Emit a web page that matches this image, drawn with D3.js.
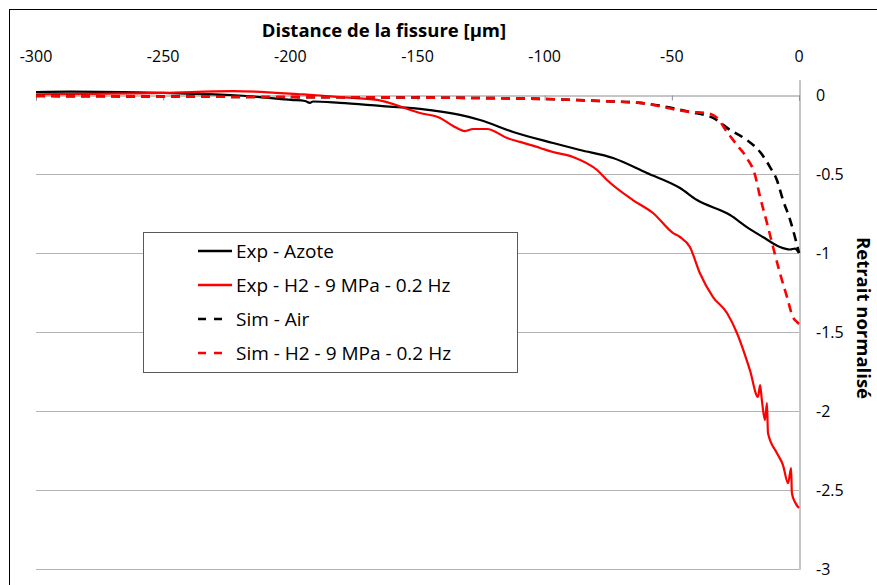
<!DOCTYPE html>
<html>
<head>
<meta charset="utf-8">
<script src="https://cdn.jsdelivr.net/npm/d3@7"></script>
<style>
  body { margin: 0; background: #fff; }
  svg { display: block; font-family: "Open Sans", "Noto Sans", sans-serif; }
</style>
</head>
<body>
<div id="chart"></div>
<script>
// distance to crack [µm] and normalised shrinkage
var expAzoteX = [-300, -286.6, -250, -223.7, -211.9, -199.7, -194.2, -192.3, -191.1, -180.5, -164.7, -149, -133.3, -125.4, -112.4, -96.7, -86.1, -73.1, -59.8, -46.8, -40.1, -27.1, -20.5, -14.2, -7.5, -3.5, -1.6, 0];
var expAzoteY = [0.022, 0.025, 0.016, 0.003, -0.01, -0.028, -0.035, -0.047, -0.038, -0.047, -0.066, -0.085, -0.123, -0.155, -0.231, -0.301, -0.345, -0.396, -0.491, -0.586, -0.662, -0.757, -0.833, -0.896, -0.959, -0.975, -0.969, -0.997];

var expH2X = [-300, -250.1, -222.5, -196.2, -191.1, -180.5, -165.9, -149, -141.1, -136, -131.3, -128.2, -122.7, -114.8, -109.7, -101.8, -96.7, -88.9, -79.4, -75.5, -65.3, -57.4, -49.5, -46.8, -42.9, -39, -33.8, -28.3, -24.4, -19.3, -16.1, -15.3, -14.6, -13.4, -12.6, -12.2, -8.7, -6.3, -4.3, -3.1, -2.8, -1.6, 0];
var expH2Y = [0.008, 0.016, 0.028, 0.008, 0.003, -0.01, -0.028, -0.111, -0.142, -0.193, -0.225, -0.212, -0.212, -0.269, -0.294, -0.332, -0.358, -0.389, -0.472, -0.535, -0.662, -0.744, -0.871, -0.896, -0.959, -1.124, -1.276, -1.377, -1.504, -1.739, -1.909, -1.833, -1.929, -2.055, -1.947, -2.137, -2.264, -2.34, -2.454, -2.359, -2.517, -2.574, -2.612];

var simAirX = [-300, -199.7, -149.8, -125.4, -99.9, -78.2, -62.5, -42.9, -33.8, -27.1, -20.5, -15.3, -11.4, -8.7, -6.3, -3.5, -1.6, 0];
var simAirY = [-0.003, -0.01, -0.013, -0.016, -0.022, -0.035, -0.047, -0.104, -0.142, -0.218, -0.282, -0.358, -0.453, -0.535, -0.662, -0.788, -0.896, -0.997];

var simH2X = [-300, -199.7, -149.8, -125.4, -99.9, -78.2, -62.5, -42.9, -36.2, -32.2, -28.3, -24.4, -20.5, -17.3, -15.3, -12.6, -10.2, -7.5, -4.7, -2.4, -0.8, 0];
var simH2Y = [-0.003, -0.01, -0.013, -0.016, -0.022, -0.035, -0.047, -0.104, -0.111, -0.142, -0.231, -0.313, -0.396, -0.503, -0.643, -0.807, -0.959, -1.124, -1.276, -1.403, -1.434, -1.447];

var xTicks = [-300, -250, -200, -150, -100, -50, 0];
var yTicks = [0, -0.5, -1, -1.5, -2, -2.5, -3];
var seriesNames = ["Exp - Azote", "Exp - H2 - 9 MPa - 0.2 Hz", "Sim - Air", "Sim - H2 - 9 MPa - 0.2 Hz"];

var w = 877, h = 585;

var svg = d3.select("#chart")
  .append("svg")
  .attr("width", w)
  .attr("height", h)

// outer frame, right and bottom edges fall outside the view
svg.append("rect")
  .attr("x", 9.5).attr("y", 9.5)
  .attr("width", 900).attr("height", 620)
  .attr("fill", "#fff")
  .attr("stroke", "#000")

var x = d3.scaleLinear().domain([-300, 0]).range([36, 799]);
var y = d3.scaleLinear().domain([0.1, -3]).range([79.7, 569.3]);

// horizontal gridlines
svg.append("g")
  .selectAll("line")
  .data(yTicks.filter(function(d) { return d != 0; }))
  .join("line")
  .attr("x1", x(-300)).attr("x2", x(0))
  .attr("y1", function(d) { return Math.round(y(d)) + 0.5; })
  .attr("y2", function(d) { return Math.round(y(d)) + 0.5; })
  .attr("stroke", "#b3b3b3")
  .attr("stroke-width", 1.2)

// x axis sits on y = 0, ticks pointing down
var xAxis = svg.append("g")
  .attr("transform", "translate(0," + (Math.round(y(0)) + 0.5) + ")")
  .call(d3.axisBottom(x).tickValues(xTicks).tickSize(5).tickFormat(""))
xAxis.select(".domain").attr("stroke", "#8c8c8c")
xAxis.selectAll(".tick line").attr("stroke", "#8c8c8c")

svg.append("g")
  .selectAll("text")
  .data(xTicks)
  .join("text")
  .attr("x", function(d) { return x(d); })
  .attr("y", 62)
  .attr("text-anchor", "middle")
  .attr("font-size", 16)
  .text(function(d) { return d; })

// y axis on the right at x = 0
var yAxis = svg.append("g")
  .attr("transform", "translate(" + (Math.round(x(0)) + 0.5) + ",0)")
  .call(d3.axisRight(y).tickValues([]).tickSize(0))
yAxis.select(".domain").attr("stroke", "#8c8c8c")

svg.append("g")
  .selectAll("text")
  .data(yTicks)
  .join("text")
  .attr("x", 816)
  .attr("y", function(d) { return y(d) + 5.5; })
  .attr("font-size", 16)
  .text(function(d) { return d; })

svg.append("text")
  .attr("x", 384).attr("y", 37)
  .attr("text-anchor", "middle")
  .attr("font-size", 18.5)
  .attr("font-weight", "bold")
  .text("Distance de la fissure [µm]")

svg.append("text")
  .attr("transform", "translate(857,318) rotate(90)")
  .attr("text-anchor", "middle")
  .attr("font-size", 18.5)
  .attr("font-weight", "bold")
  .text("Retrait normalisé")

function pts(xs, ys) {
  return xs.map(function(v, i) { return [v, ys[i]]; });
}

var line = d3.line()
  .x(function(d) { return x(d[0]); })
  .y(function(d) { return y(d[1]); })
  .curve(d3.curveMonotoneX)

var series = [
  {data: pts(expAzoteX, expAzoteY), color: "#000", dash: null},
  {data: pts(expH2X, expH2Y), color: "#ff0000", dash: null},
  {data: pts(simAirX, simAirY), color: "#000", dash: "9,6"},
  {data: pts(simH2X, simH2Y), color: "#ff0000", dash: "9,6"}
];

svg.append("g")
  .selectAll("path")
  .data(series)
  .join("path")
  .attr("d", function(d) { return line(d.data); })
  .attr("fill", "none")
  .attr("stroke", function(d) { return d.color; })
  .attr("stroke-width", function(d) { return d.dash ? 2.6 : 2.2; })
  .attr("stroke-dasharray", function(d) { return d.dash; })
  .attr("stroke-linejoin", "round")

// legend
var legend = svg.append("g")
legend.append("rect")
  .attr("x", 143.5).attr("y", 232.5)
  .attr("width", 374).attr("height", 140)
  .attr("fill", "#fff")
  .attr("stroke", "#595959")

var rowY = [251, 285, 319, 353];
series.forEach(function(s, i) {
  legend.append("line")
    .attr("x1", 198).attr("x2", s.dash ? 224 : 232)
    .attr("y1", rowY[i]).attr("y2", rowY[i])
    .attr("stroke", s.color)
    .attr("stroke-width", 2.4)
    .attr("stroke-dasharray", s.dash ? "8,8" : null)
  legend.append("text")
    .attr("x", 236).attr("y", rowY[i] + 6.5)
    .attr("font-size", 19)
    .text(seriesNames[i])
});
</script>
</body>
</html>
